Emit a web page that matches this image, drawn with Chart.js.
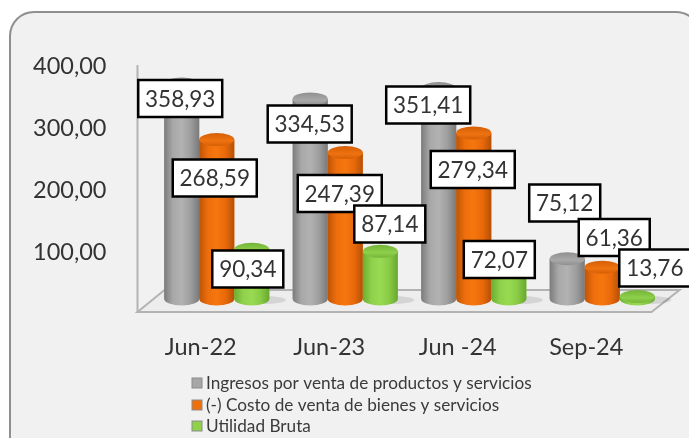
<!DOCTYPE html>
<html><head><meta charset="utf-8">
<style>html,body{margin:0;padding:0;background:#fff}#w{width:689px;height:438px}</style>
<script src="https://cdn.jsdelivr.net/npm/chart.js@4"></script>
</head><body><div id="w"><canvas id="c" width="689" height="438"></canvas></div>
<script>
const categories = ['Jun-22','Jun-23','Jun -24','Sep-24'];
const ingresos = [358.93,334.53,351.41,75.12];
const costo = [268.59,247.39,279.34,61.36];
const utilidad = [90.34,87.14,72.07,13.76];
const seriesNames = ['Ingresos por venta de productos y servicios','(-) Costo de venta de bienes y servicios','Utilidad Bruta'];
const yTicks = [100,200,300,400];
const labelShift = [
 [[-1.5,14.6],[-0.5,25.1],[-10.5,16.5],[-2.5,-55.7]],
 [[-2,38.5],[-5.5,40.9],[-1,36.6],[12,-29.7]],
 [[-4,19.6],[9.5,-27.3],[-9.5,-1.1],[17.5,-28.5]]
];
const palette = [
 {base:'#a6a6a6',stops:['#7c7c7c','#a8a8a8','#b2b2b2','#9e9e9e','#7a7a7a'],cap:'#a8a8a8',capD:'#8f8f8f'},
 {base:'#ef6f0a',stops:['#bd5406','#ee6e0c','#f6760e','#e9690a','#b55006'],cap:'#ee7210',capD:'#d55f06'},
 {base:'#8fd24a',stops:['#6cad32','#8fd14a','#9ada53','#88cb44','#68a830'],cap:'#8ed04a',capD:'#74b338'}
];
const fmt = v => v.toFixed(2).replace('.',',');
const FONT = 'Lato, Carlito, sans-serif';

const decor = {
 id:'decor',
 beforeDraw(ch){
  const c=ch.ctx; c.save();
  c.fillStyle='#f1f1f1'; c.strokeStyle='#8f8f8f'; c.lineWidth=2;
  c.beginPath(); c.roundRect(10,12,690,450,24); c.fill(); c.stroke();
  c.restore();
 },
 beforeDatasetsDraw(ch){
  const c=ch.ctx,a=ch.chartArea; c.save();
  const L=a.left-15,B=a.bottom,R=a.right-15,T=a.top;
  c.fillStyle='#ededed';
  c.beginPath(); c.moveTo(L,B); c.lineTo(L+27,B-22); c.lineTo(R+28,B-22); c.lineTo(R,B); c.closePath(); c.fill();
  c.strokeStyle='#b3b3b3'; c.lineWidth=2; c.stroke();
  c.beginPath(); c.moveTo(L,T); c.lineTo(L,B); c.stroke();
  c.restore();
 },
 afterDatasetsDraw(ch){
  const c=ch.ctx; c.save();
  // soft floor shadow behind the last bar of each group
  ch.getDatasetMeta(2).data.forEach(el=>{
   c.fillStyle='rgba(0,0,0,0.10)';
   c.beginPath(); c.ellipse(el.x+12,el.base+1,22,4,0,0,Math.PI*2); c.fill();
  });
  ch.data.datasets.forEach((d,i)=>{
   const p=palette[i];
   ch.getDatasetMeta(i).data.forEach(el=>{
    const w=el.width,l=el.x-w/2,r=el.x+w/2,top=el.y,bot=el.base,ry=6.5;
    const g=c.createLinearGradient(l,0,r,0);
    p.stops.forEach((s,k)=>g.addColorStop(k/(p.stops.length-1),s));
    c.fillStyle=g;
    c.beginPath(); c.moveTo(l,top); c.lineTo(l,bot);
    c.ellipse(el.x,bot,w/2,ry,0,Math.PI,0,true);
    c.lineTo(r,top); c.closePath(); c.fill();
    const g2=c.createLinearGradient(0,top-ry,0,top+ry);
    g2.addColorStop(0,p.capD); g2.addColorStop(.6,p.cap); g2.addColorStop(1,p.capD);
    c.fillStyle=g2;
    c.beginPath(); c.ellipse(el.x,top,w/2,ry,0,0,Math.PI*2); c.fill();
   });
  });
  // value labels
  c.font='22.5px '+FONT; c.textAlign='center'; c.textBaseline='middle';
  ch.data.datasets.forEach((d,i)=>{
   ch.getDatasetMeta(i).data.forEach((el,j)=>{
    const t=fmt(d.data[j]),[dx,dy]=labelShift[i][j];
    const w=t.length>5?84:71,h=37,x=el.x+dx,y=el.y+dy;
    c.fillStyle='#fff'; c.strokeStyle='#000'; c.lineWidth=2.5;
    c.beginPath(); c.rect(x-w/2,y-h/2,w,h); c.fill(); c.stroke();
    c.fillStyle='#333'; c.fillText(t,x,y+1);
   });
  });
  // legend
  const lx=192; const ly=[383,405,426];
  c.font='17.2px '+FONT; c.textAlign='left';
  ch.data.datasets.forEach((d,i)=>{
   c.fillStyle=palette[i].base; c.strokeStyle='#8c8c8c'; c.lineWidth=1;
   c.fillRect(lx,ly[i]-5,10,10); c.strokeRect(lx,ly[i]-5,10,10);
   c.fillStyle='#3a3a3a'; c.fillText(d.label,lx+14,ly[i]);
  });
  c.restore();
 }
};

new Chart(document.getElementById('c'),{
 type:'bar',
 plugins:[decor],
 data:{labels:categories,datasets:[
  {label:seriesNames[0],data:ingresos,backgroundColor:palette[0].base,yAxisID:'yb',base:9.7},
  {label:seriesNames[1],data:costo,backgroundColor:palette[1].base,yAxisID:'yb',base:9.7},
  {label:seriesNames[2],data:utilidad,backgroundColor:palette[2].base,yAxisID:'yb',base:9.7}
 ]},
 options:{
  responsive:false,animation:false,
  layout:{padding:{top:65,right:22.5,left:0,bottom:0}},
  datasets:{bar:{categoryPercentage:0.818,barPercentage:1}},
  plugins:{legend:{display:false},tooltip:{enabled:false}},
  scales:{
   x:{grid:{display:false},border:{display:false},
      afterFit(s){s.height=126;},
      ticks:{color:'#333',font:{family:FONT,size:23.5},labelOffset:-16,padding:13,maxRotation:0,autoSkip:false}},
   y:{position:'left',min:3,max:403,grid:{display:false},border:{display:false},
      afterFit(s){s.width=152.5;},
      afterBuildTicks(s){s.ticks=yTicks.map(v=>({value:v}));},
      ticks:{color:'#333',font:{family:FONT,size:23.5},padding:38,callback:v=>fmt(v)}},
   yb:{display:false,min:-11.36,max:389.6}
  }
 }
});
</script></body></html>
